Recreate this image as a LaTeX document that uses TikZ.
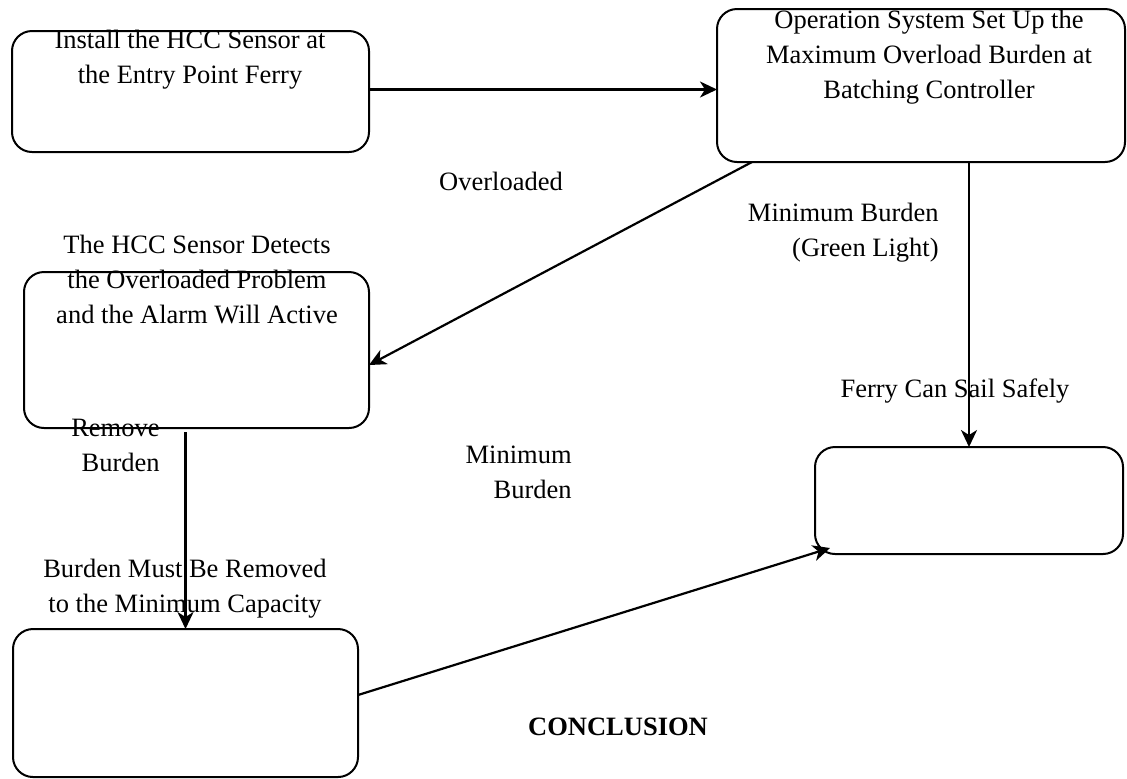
\documentclass[tikz,border=0pt]{standalone}
\usepackage{fontspec}
\setmainfont{Liberation Serif}
\usetikzlibrary{arrows.meta,calc}
\newcommand\fs{\fontsize{13.25}{17.5}\selectfont}
\newcommand\mlines[2][c]{\begin{tabular}[t]{@{}#1@{}}#2\end{tabular}}
\begin{document}
\begin{tikzpicture}[x=0.5pt,y=-0.5pt,
  box/.style={draw,line width=1pt,rounded corners=10pt,anchor=north west,inner sep=0pt,outer sep=0pt},
  lbl/.style={inner sep=0pt,font=\fs},
  arr/.style={line width=1.1pt,-{Stealth[length=8.5pt,width=8pt,inset=2.5pt]}}]
\useasboundingbox (0,0) rectangle (1127,778);
% boxes
\node[box,minimum width=178.5pt,minimum height=60.5pt] (b1) at (12,31) {};
\node[box,minimum width=204pt,minimum height=76.5pt] (b2) at (717,9) {};
\node[box,minimum width=172.5pt,minimum height=78pt] (b3) at (24,272) {};
\node[box,minimum width=154pt,minimum height=53.5pt] (b4) at (815,447) {};
\node[box,minimum width=172.5pt,minimum height=74pt] (b5) at (13,629) {};
% labels
\node[lbl,anchor=base] (t1) at (190,48) {\mlines{Install the HCC Sensor at\\the Entry Point Ferry}};
\node[lbl,anchor=base] (t2) at (929,28) {\mlines{Operation System Set Up the\\Maximum Overload Burden at\\Batching Controller}};
\node[lbl,anchor=base] (t3) at (501,190) {Overloaded};
\node[lbl,anchor=base] (t4) at (197,253) {\mlines{The HCC Sensor Detects\\the Overloaded Problem\\and the Alarm Will Active}};
\node[lbl,anchor=base east] (t5) at (939,221) {\mlines[r]{Minimum Burden\\(Green Light)}};
\node[lbl,anchor=base] (t6) at (955,397) {Ferry Can Sail Safely};
\node[lbl,anchor=base east] (t7) at (160,436) {\mlines[r]{Remove\\Burden}};
\node[lbl,anchor=base east] (t8) at (572,463) {\mlines[r]{Minimum\\Burden}};
\node[lbl,anchor=base] (t9) at (185,577) {\mlines{Burden Must Be Removed\\to the Minimum Capacity}};
\node[lbl,anchor=base] (t10) at (618,735) {\textbf{CONCLUSION}};
% connectors
\draw[arr] ([yshift=1pt]b1.east) -- ([yshift=1pt]b1.east -| b2.west);
\draw[arr] ([xshift=17.5pt]b2.south west) -- ([yshift=-7.5pt]b3.east);
\draw[arr] (b4.north |- b2.south) -- (b4.north);
\draw[arr] ([yshift=-2pt]b3.south -| b5.north) -- (b5.north);
\draw[arr] ([yshift=4pt]b5.east) -- ([xshift=7.5pt,yshift=3pt]b4.south west);
\end{tikzpicture}
\end{document}
